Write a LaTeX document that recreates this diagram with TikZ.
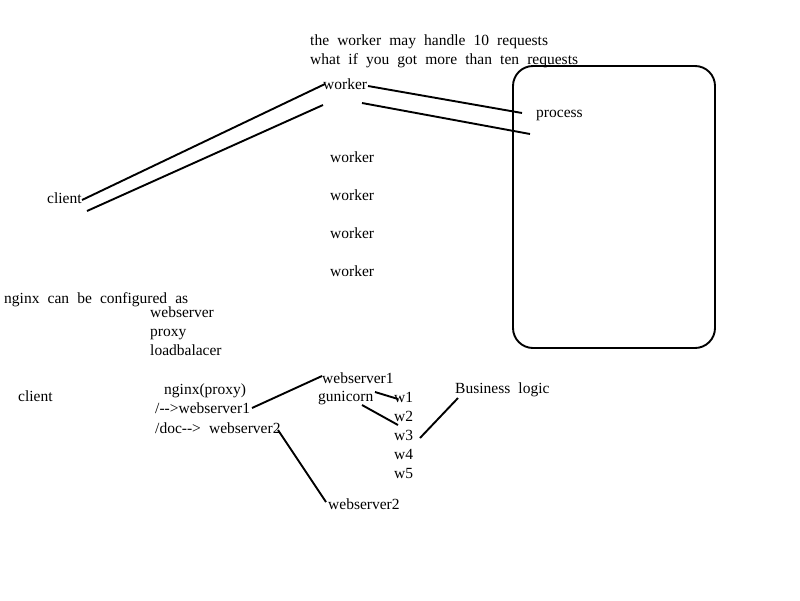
\documentclass[tikz,border=0pt]{standalone}
\usepackage{fontspec}
\setmainfont[WordSpace={2.1,0,0},Ligatures=TeXOff]{Liberation Serif}
\begin{document}
\begin{tikzpicture}[x=1pt,y=-1pt,
  lbl/.style={anchor=base west,inner sep=0pt,font=\fontsize{15.5}{18}\selectfont},
  ln/.style={line width=1.9pt}]
\useasboundingbox (0,0) rectangle (800,600);
% top section
\node[lbl] (t1) at (310,45) {the worker may handle 10 requests};
\node[lbl] (t2) at (310,64) {what if you got more than ten requests};
\node[lbl] (wk) at (323,89) {worker};
\node[lbl] (proc) at (536,117) {process};
\node[draw,line width=1.9pt,rounded corners=20pt,minimum width=202pt,minimum height=282pt,inner sep=0pt] (box) at (614,207) {};
\node[lbl] (cl1) at (47,203) {client};
\node[lbl] (w1) at (330,162) {worker};
\node[lbl] (w2) at (330,200) {worker};
\node[lbl] (w3) at (330,238) {worker};
\node[lbl] (w4) at (330,276) {worker};
\coordinate (a1) at (87,211);
\coordinate (a2) at (323,105);
\coordinate (a3) at (82,200);
\coordinate (a4) at (325,84);
\coordinate (b0) at (368,86);
\coordinate (b1) at (522,113);
\coordinate (c1) at (362,103);
\coordinate (c2) at (530,134);
\draw[ln] (a3) -- (a4);
\draw[ln] (a1) -- (a2);
\draw[ln] (b0) -- (b1);
\draw[ln] (c1) -- (c2);
% nginx section
\node[lbl] (ng) at (4,303) {nginx can be configured as};
\node[lbl] (ws) at (150,317) {webserver};
\node[lbl] (px) at (150,336) {proxy};
\node[lbl] (lb) at (150,355) {loadbalacer};
\node[lbl] (cl2) at (18,401) {client};
\node[lbl] (np) at (164,394) {nginx(proxy)};
\node[lbl] (r1) at (155,413) {/-{}->webserver1};
\node[lbl] (r2) at (155,433) {/doc-{}-> webserver2};
\node[lbl] (wsa) at (322,383) {webserver1};
\node[lbl] (gu) at (318,401) {gunicorn};
\node[lbl] (g1) at (394,402) {w1};
\node[lbl] (g2) at (394,421) {w2};
\node[lbl] (g3) at (394,440) {w3};
\node[lbl] (g4) at (394,459) {w4};
\node[lbl] (g5) at (394,478) {w5};
\node[lbl] (bl) at (455,393) {Business logic};
\node[lbl] (wsb) at (328,509) {webserver2};
\coordinate (d1) at (252,408);
\coordinate (d2) at (322,376);
\coordinate (e1) at (278,430);
\coordinate (e2) at (326,502);
\coordinate (f1) at (375,392);
\coordinate (f2) at (398,399);
\coordinate (h1) at (362,405);
\coordinate (h2) at (398,425);
\coordinate (k1) at (420,438);
\coordinate (k2) at (458,398);
\draw[ln] (d1) -- (d2);
\draw[ln] (e1) -- (e2);
\draw[ln] (f1) -- (f2);
\draw[ln] (h1) -- (h2);
\draw[ln] (k1) -- (k2);
\end{tikzpicture}
\end{document}
